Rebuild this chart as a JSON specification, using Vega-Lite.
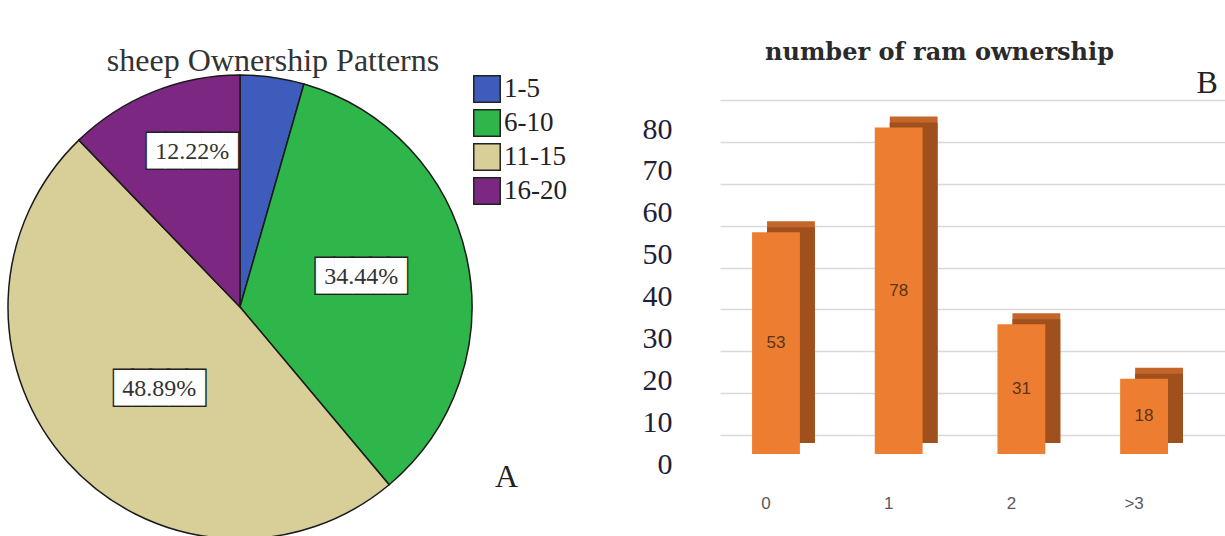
{
  "$schema": "https://vega.github.io/schema/vega-lite/v6.json",
  "padding": {"top": 40, "left": 0, "right": 0, "bottom": 0},
  "background": "white",
  "config": {"view": {"stroke": null}, "font": "Liberation Serif"},
  "bounds": "flush",
  "spacing": 240,
  "datasets": {
    "pie": [
      {"g": "1-5", "k": 1, "n": 4, "lbl": "4.44%"},
      {"g": "6-10", "k": 2, "n": 31, "lbl": "34.44%"},
      {"g": "11-15", "k": 3, "n": 44, "lbl": "48.89%"},
      {"g": "16-20", "k": 4, "n": 11, "lbl": "12.22%"}
    ],
    "bars": [
      {"c": "0", "v": 53},
      {"c": "1", "v": 78},
      {"c": "2", "v": 31},
      {"c": ">3", "v": 18}
    ]
  },
  "hconcat": [
    {
      "width": 480,
      "height": 464,
      "title": {"text": "sheep Ownership Patterns", "font": "Liberation Serif", "fontSize": 32, "fontWeight": "normal", "color": "#333333", "baseline": "alphabetic", "offset": -31, "dx": 33},
      "data": {"name": "pie"},
      "encoding": {
        "theta": {"field": "n", "type": "quantitative", "stack": true},
        "order": {"field": "k", "type": "quantitative"}
      },
      "layer": [
        {
          "mark": {"type": "arc", "outerRadius": 232, "stroke": "#1a1a1a", "strokeWidth": 1.5},
          "encoding": {
            "color": {
              "field": "g", "type": "nominal",
              "scale": {"domain": ["1-5", "6-10", "11-15", "16-20"], "range": ["#3D5CBB", "#2EB64B", "#D7CE98", "#7C2882"]},
              "legend": {"title": null, "orient": "none", "legendX": 473, "legendY": 0, "symbolType": "square", "symbolSize": 700, "symbolStrokeColor": "#222222", "symbolStrokeWidth": 1.5, "symbolOpacity": 1, "labelFont": "Liberation Serif", "labelFontSize": 27, "labelColor": "#222222", "rowPadding": 0, "labelOffset": 3}
            }
          }
        },
        {
          "mark": {"type": "text", "radius": 162, "thetaOffset": 0.084, "font": "DejaVu Sans Mono", "fontSize": 30, "fill": "#222222", "stroke": "#222222", "strokeWidth": 3, "baseline": "middle", "align": "center"},
          "encoding": {"text": {"condition": {"test": "datum.k != 4", "value": ""}, "value": "█████"}}
        },
        {
          "mark": {"type": "text", "radius": 162, "thetaOffset": 0.084, "font": "DejaVu Sans Mono", "fontSize": 30, "fill": "#ffffff", "baseline": "middle", "align": "center"},
          "encoding": {"text": {"condition": {"test": "datum.k != 4", "value": ""}, "value": "█████"}}
        },
        {
          "mark": {"type": "text", "radius": 162, "thetaOffset": 0.084, "font": "Liberation Serif", "fontSize": 24, "fill": "#333333", "baseline": "middle", "align": "center"},
          "encoding": {"text": {"condition": {"test": "datum.k != 4", "value": ""}, "field": "lbl"}}
        },
        {
          "mark": {"type": "text", "radius": 125, "thetaOffset": -0.037, "font": "DejaVu Sans Mono", "fontSize": 30, "fill": "#222222", "stroke": "#222222", "strokeWidth": 3, "baseline": "middle", "align": "center"},
          "encoding": {"text": {"condition": {"test": "datum.k != 2", "value": ""}, "value": "█████"}}
        },
        {
          "mark": {"type": "text", "radius": 125, "thetaOffset": -0.037, "font": "DejaVu Sans Mono", "fontSize": 30, "fill": "#ffffff", "baseline": "middle", "align": "center"},
          "encoding": {"text": {"condition": {"test": "datum.k != 2", "value": ""}, "value": "█████"}}
        },
        {
          "mark": {"type": "text", "radius": 125, "thetaOffset": -0.037, "font": "Liberation Serif", "fontSize": 24, "fill": "#333333", "baseline": "middle", "align": "center"},
          "encoding": {"text": {"condition": {"test": "datum.k != 2", "value": ""}, "field": "lbl"}}
        },
        {
          "mark": {"type": "text", "radius": 115, "thetaOffset": -0.06, "font": "DejaVu Sans Mono", "fontSize": 30, "fill": "#222222", "stroke": "#222222", "strokeWidth": 3, "baseline": "middle", "align": "center"},
          "encoding": {"text": {"condition": {"test": "datum.k != 3", "value": ""}, "value": "█████"}}
        },
        {
          "mark": {"type": "text", "radius": 115, "thetaOffset": -0.06, "font": "DejaVu Sans Mono", "fontSize": 30, "fill": "#ffffff", "baseline": "middle", "align": "center"},
          "encoding": {"text": {"condition": {"test": "datum.k != 3", "value": ""}, "value": "█████"}}
        },
        {
          "mark": {"type": "text", "radius": 115, "thetaOffset": -0.06, "font": "Liberation Serif", "fontSize": 24, "fill": "#333333", "baseline": "middle", "align": "center"},
          "encoding": {"text": {"condition": {"test": "datum.k != 3", "value": ""}, "field": "lbl"}}
        },
        {
          "transform": [{"filter": "datum.k == 2"}],
          "mark": {"type": "text", "radius": 316, "thetaOffset": 1.056, "font": "Liberation Serif", "fontSize": 32, "fill": "#222222", "baseline": "middle", "align": "center"},
          "encoding": {"text": {"value": "A"}}
        }
      ]
    },
    {
      "width": 505,
      "height": 360,
      "title": {"text": "number of ram ownership", "font": "DejaVu Serif", "fontSize": 24, "fontWeight": "bold", "color": "#2a2a2a", "baseline": "alphabetic", "offset": -17, "dx": -33},
      "data": {"name": "bars"},
      "encoding": {
        "x": {
          "field": "c", "type": "nominal", "sort": null,
          "scale": {"paddingInner": 0.61, "paddingOuter": 0.363, "align": 0.36},
          "axis": {"title": null, "labelAngle": 0, "domain": false, "ticks": false, "grid": false, "labelPadding": 60, "labelOffset": -10, "labelFont": "Liberation Sans", "labelFontSize": 17, "labelColor": "#595959"}
        }
      },
      "layer": [
        {
          "mark": {"type": "bar", "color": "#C4662B", "xOffset": 15, "x2Offset": 15, "yOffset": 8, "y2Offset": 8},
          "encoding": {
            "y": {
              "field": "v", "type": "quantitative",
              "scale": {"domain": [0, 86], "nice": false},
              "axis": {"title": null, "values": [0, 10, 20, 30, 40, 50, 60, 70, 80], "grid": true, "gridColor": "#d9d9d9", "gridWidth": 1.5, "domain": false, "ticks": false, "labelPadding": 48, "labelOffset": 29, "labelFont": "Liberation Serif", "labelFontSize": 30, "labelColor": "#1e1e3a"}
            },
            "y2": {"datum": 0}
          }
        },
        {
          "mark": {"type": "bar", "color": "#A0501C", "xOffset": 15, "x2Offset": 15, "yOffset": 14, "y2Offset": 8},
          "encoding": {"y": {"field": "v", "type": "quantitative"}, "y2": {"datum": 0}}
        },
        {
          "mark": {"type": "bar", "color": "#ED7D31", "yOffset": 19, "y2Offset": 19},
          "encoding": {"y": {"field": "v", "type": "quantitative"}, "y2": {"datum": 0}}
        },
        {
          "mark": {"type": "text", "yOffset": 182.3, "font": "Liberation Sans", "fontSize": 17, "fill": "#5a3518", "baseline": "middle"},
          "encoding": {"y": {"field": "v", "type": "quantitative", "stack": "center"}, "text": {"field": "v"}}
        },
        {
          "data": {"values": [{"t": "B"}]},
          "mark": {"type": "text", "xOffset": 63, "font": "Liberation Serif", "fontSize": 32, "fill": "#222222", "baseline": "middle"},
          "encoding": {"x": {"datum": ">3", "type": "nominal"}, "y": {"datum": 84.1, "type": "quantitative"}, "text": {"field": "t"}}
        }
      ]
    }
  ]
}
